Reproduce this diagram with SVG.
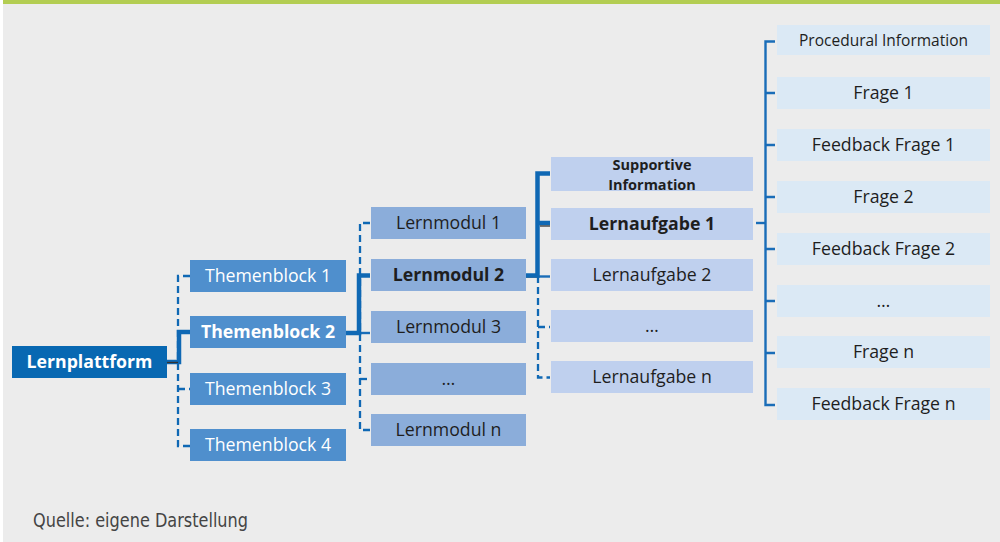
<svg xmlns="http://www.w3.org/2000/svg" width="1000" height="542" viewBox="0 0 1000 542">
<style>
.t{font-family:"Open Sans","Noto Sans","Liberation Sans",sans-serif;font-size:17.7px;text-anchor:middle}
.b{font-weight:bold}
.w{fill:#ffffff}
.d{fill:#1e1e1e}
.l0{fill:#0868b2}
.l1{fill:#4f8fcd}
.l2{fill:#8badda}
.l3{fill:#bfd0ee}
.l4{fill:#dbe9f5}
.thick{fill:none;stroke:#0f68b4;stroke-width:4.5}
.dash{fill:none;stroke:#0f68b4;stroke-width:2.3;stroke-dasharray:7 4}
.thin{fill:none;stroke:#1a6db8;stroke-width:2.4}
.blk{fill:none;stroke:#333;stroke-width:1.3}
</style>
<rect x="0" y="0" width="1000" height="542" fill="#ffffff"/>
<rect x="3" y="0" width="997" height="542" fill="#ececec"/>
<rect x="3" y="0" width="997" height="4" fill="#b3cd52"/>

<g id="connectors">
  <path class="dash" d="M190,276 H178 V446 H190"/>
  <path class="dash" d="M178,389 H190"/>
  <path class="thick" d="M167,362 H179 V332 H190"/>
  <path class="blk" d="M167,362.5 H178"/>
  <path class="dash" d="M370,223 H360 V430 H370"/>
  <path class="dash" d="M360,379 H370"/>
  <path class="thin" d="M360,333 H370"/>
  <path class="thick" d="M346,333 H359 V275.5 H370"/>
  <path class="blk" d="M526,277 H538"/>
  <path class="dash" d="M538,276 V377.5 H550"/>
  <path class="dash" d="M538,327 H550"/>
  <path class="thin" d="M538,276.5 H550"/>
  <path class="thick" d="M526,275.5 H537.5 V173.5 H550"/>
  <path class="thick" d="M537.5,223 H550"/>
  <path class="blk" d="M540,226 H550"/>
  <path class="thin" d="M756,223 H765.5"/>
  <path class="thin" d="M775,41.5 H765.5 V405 H775"/>
  <path class="thin" d="M765.5,93 H775 M765.5,145 H775 M765.5,197 H775 M765.5,249 H775 M765.5,301 H775 M765.5,353 H775"/>
</g>

<g id="n-lernplattform"><rect class="l0" x="12" y="346" width="155" height="32"/><text class="t b w" x="89.5" y="368">Lernplattform</text></g>

<g id="n-tb1"><rect class="l1" x="190" y="260" width="156" height="32"/><text class="t w" x="268" y="282">Themenblock 1</text></g>
<g id="n-tb2"><rect class="l1" x="190" y="316" width="156" height="32"/><text class="t b w" x="268" y="338">Themenblock 2</text></g>
<g id="n-tb3"><rect class="l1" x="190" y="373" width="156" height="32"/><text class="t w" x="268" y="395">Themenblock 3</text></g>
<g id="n-tb4"><rect class="l1" x="190" y="429" width="156" height="32"/><text class="t w" x="268" y="451">Themenblock 4</text></g>

<g id="n-lm1"><rect class="l2" x="371" y="207" width="155" height="32"/><text class="t d" x="448.5" y="229">Lernmodul 1</text></g>
<g id="n-lm2"><rect class="l2" x="371" y="259" width="155" height="32"/><text class="t b d" x="448.5" y="281">Lernmodul 2</text></g>
<g id="n-lm3"><rect class="l2" x="371" y="311" width="155" height="32"/><text class="t d" x="448.5" y="333">Lernmodul 3</text></g>
<g id="n-lm4"><rect class="l2" x="371" y="363" width="155" height="32"/><text class="t d" x="448.5" y="385">…</text></g>
<g id="n-lmn"><rect class="l2" x="371" y="414" width="155" height="32"/><text class="t d" x="448.5" y="436">Lernmodul n</text></g>

<g id="n-si"><rect class="l3" x="551" y="157" width="202" height="34"/><text class="t b d" x="652" y="169.5" style="font-size:14.5px"><tspan x="652" y="169.5">Supportive</tspan><tspan x="652" y="189.5">Information</tspan></text></g>
<g id="n-la1"><rect class="l3" x="551" y="208" width="202" height="32"/><text class="t b d" x="652" y="230">Lernaufgabe 1</text></g>
<g id="n-la2"><rect class="l3" x="551" y="259" width="202" height="32"/><text class="t d" x="652" y="281">Lernaufgabe 2</text></g>
<g id="n-la3"><rect class="l3" x="551" y="310" width="202" height="32"/><text class="t d" x="652" y="332">…</text></g>
<g id="n-lan"><rect class="l3" x="551" y="361" width="202" height="32"/><text class="t d" x="652" y="383">Lernaufgabe n</text></g>

<g id="n-pi"><rect class="l4" x="777" y="25" width="213" height="30"/><text class="t d" x="883.5" y="46" style="font-size:15.5px">Procedural Information</text></g>
<g id="n-f1"><rect class="l4" x="777" y="77" width="213" height="32"/><text class="t d" x="883.5" y="99">Frage 1</text></g>
<g id="n-ff1"><rect class="l4" x="777" y="129" width="213" height="32"/><text class="t d" x="883.5" y="151">Feedback Frage 1</text></g>
<g id="n-f2"><rect class="l4" x="777" y="181" width="213" height="32"/><text class="t d" x="883.5" y="203">Frage 2</text></g>
<g id="n-ff2"><rect class="l4" x="777" y="233" width="213" height="32"/><text class="t d" x="883.5" y="255">Feedback Frage 2</text></g>
<g id="n-fx"><rect class="l4" x="777" y="285" width="213" height="32"/><text class="t d" x="883.5" y="307">…</text></g>
<g id="n-fn"><rect class="l4" x="777" y="336" width="213" height="32"/><text class="t d" x="883.5" y="358">Frage n</text></g>
<g id="n-ffn"><rect class="l4" x="777" y="388" width="213" height="32"/><text class="t d" x="883.5" y="410">Feedback Frage n</text></g>

<text x="33" y="527" fill="#444" style="font-family:'DejaVu Sans Condensed','Liberation Sans Narrow','Liberation Sans',sans-serif;font-size:19px" textLength="215" lengthAdjust="spacingAndGlyphs">Quelle: eigene Darstellung</text>
</svg>
